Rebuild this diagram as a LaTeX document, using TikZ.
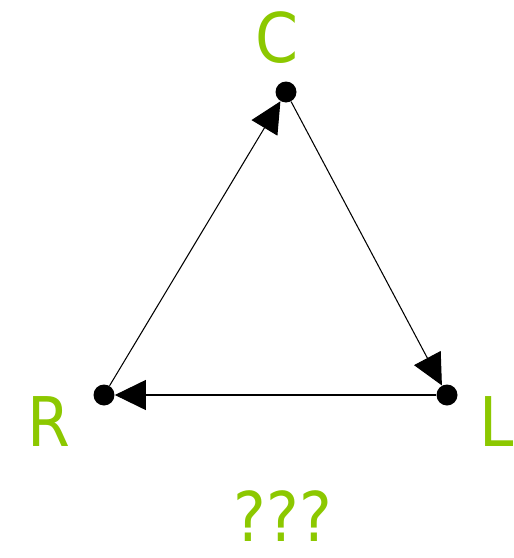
\documentclass[tikz,border=0pt]{standalone}
\usepackage{fontspec}
\setmainfont{DejaVu Sans Condensed}
\usepackage{xcolor}
\usetikzlibrary{arrows.meta}
\definecolor{lime}{HTML}{8CC800}

\begin{document}
\begin{tikzpicture}[
    x=0.02cm, y=-0.02cm,
    dot/.style={circle, fill=black, inner sep=0pt, minimum size=0.42cm},
    tag/.style={font=\fontsize{39}{46}\selectfont, text=lime, inner sep=0pt},
    arrow/.style={-{Triangle[length=0.62cm, width=0.6cm]}, line width=0.6pt}
]
  \useasboundingbox (0,0) rectangle (514,558);
  \node[dot] (C) at (286,92) {};
  \node[dot] (L) at (447,395) {};
  \node[dot] (R) at (104,395) {};

  \node[tag] (Ctag) at (277,38) {C};
  \node[tag] (Ltag) at (497,422) {L};
  \node[tag] (Rtag) at (49,422) {R};
  \node[tag] (qtag) at (283,516) {???};

  \draw[arrow] (C) -- (L);
  \draw[arrow] (L) -- (R);
  \draw[arrow] (R) -- (C);
\end{tikzpicture}
\end{document}
